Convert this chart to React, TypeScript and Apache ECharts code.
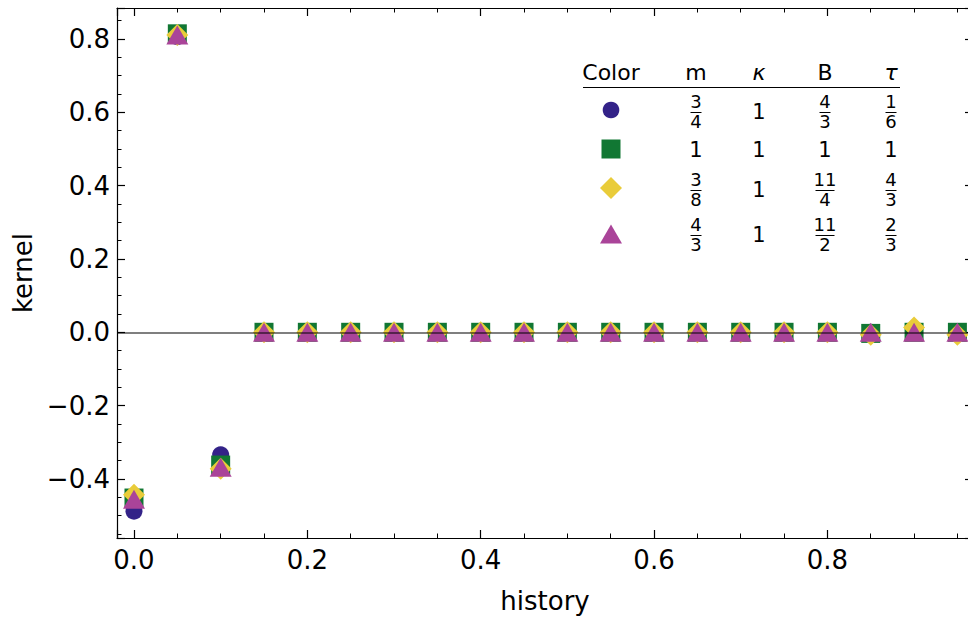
import React, { useEffect, useRef } from "react";
import * as echarts from "echarts";

// ---- data ----
const historyX = [0, 0.05, 0.1, 0.15, 0.2, 0.25, 0.3, 0.35, 0.4, 0.45, 0.5, 0.55, 0.6, 0.65, 0.7, 0.75, 0.8, 0.85, 0.9, 0.95];
const circleVals = [-0.488, 0.806, -0.334, 0, 0, 0, 0, 0, 0, 0, 0, 0, 0, 0, 0, 0, 0, 0, 0, 0];
const squareVals = [-0.452, 0.814, -0.362, 0, 0, 0, 0, 0, 0, 0, 0, 0, 0, 0, 0, 0, 0, -0.003, 0, 0];
const diamondVals = [-0.443, 0.811, -0.372, 0, 0, 0, 0, 0, 0, 0, 0, 0, 0, 0, 0, 0, 0, -0.007, 0.013, -0.007];
const triangleVals = [-0.455, 0.811, -0.368, 0, 0, 0, 0, 0, 0, 0, 0, 0, 0, 0, 0, 0, 0, 0, 0, 0];

const seriesColors = ["#332288", "#117733", "#E9CC3A", "#AA4499"];

// legend table
const tableHeaders = ["Color", "m", "κ", "B", "τ"];
const colM = ["3/4", "1", "3/8", "4/3"];
const colKappa = ["1", "1", "1", "1"];
const colB = ["4/3", "1", "11/4", "11/2"];
const colTau = ["1/6", "1", "4/3", "2/3"];

const FONT = '"DejaVu Sans"';

function buildTable(): any[] {
  const els: any[] = [];
  const colX = [611, 696, 759, 825, 891];
  const headerY = 72;
  tableHeaders.forEach((h, i) => {
    const italic = h === "κ" || h === "τ";
    els.push({
      type: "text",
      x: colX[i],
      y: headerY,
      style: {
        text: h,
        fill: "#000",
        font: `${italic ? "italic " : ""}22px ${FONT}`,
        align: "center",
        verticalAlign: "middle",
      },
    });
  });
  els.push({
    type: "line",
    shape: { x1: 583, y1: 87.5, x2: 900, y2: 87.5 },
    style: { stroke: "#000", lineWidth: 1.2 },
  });
  const rowY = [112, 150, 190, 235];
  const markY = [110, 149, 188, 234];
  const mx = colX[0];
  // markers
  els.push({ type: "circle", shape: { cx: mx, cy: markY[0], r: 8.3 }, style: { fill: seriesColors[0] } });
  els.push({ type: "rect", shape: { x: mx - 9.5, y: markY[1] - 9.5, width: 19, height: 19 }, style: { fill: seriesColors[1] } });
  els.push({
    type: "polygon",
    shape: { points: [[mx, markY[2] - 11], [mx + 11, markY[2]], [mx, markY[2] + 11], [mx - 11, markY[2]]] },
    style: { fill: seriesColors[2] },
  });
  els.push({
    type: "polygon",
    shape: { points: [[mx, markY[3] - 9.5], [mx + 11, markY[3] + 9.5], [mx - 11, markY[3] + 9.5]] },
    style: { fill: seriesColors[3] },
  });
  const cols = [colM, colKappa, colB, colTau];
  cols.forEach((col, ci) => {
    const cx = colX[ci + 1];
    col.forEach((cell, ri) => {
      const cy = rowY[ri];
      if (cell.includes("/")) {
        const [num, den] = cell.split("/");
        const w = Math.max(num.length, den.length) === 1 ? 11 : 19;
        els.push({
          type: "text",
          x: cx,
          y: cy - 10.2,
          style: { text: num, fill: "#000", font: `18px ${FONT}`, align: "center", verticalAlign: "middle" },
        });
        els.push({
          type: "line",
          shape: { x1: cx - w / 2, y1: cy + 0.5, x2: cx + w / 2, y2: cy + 0.5 },
          style: { stroke: "#000", lineWidth: 1 },
        });
        els.push({
          type: "text",
          x: cx,
          y: cy + 9.5,
          style: { text: den, fill: "#000", font: `18px ${FONT}`, align: "center", verticalAlign: "middle" },
        });
      } else {
        els.push({
          type: "text",
          x: cx,
          y: cy,
          style: { text: cell, fill: "#000", font: `21px ${FONT}`, align: "center", verticalAlign: "middle" },
        });
      }
    });
  });
  return els;
}

const fmt = (v: number) => (v < 0 ? "\u2212" : "") + Math.abs(v).toFixed(1);

export default function App() {
  const ref = useRef<HTMLDivElement>(null);
  useEffect(() => {
    if (!ref.current) return;
    const chart = echarts.init(ref.current, null, { renderer: "svg" });
    const xMin = -0.0196;
    const xMax = 0.968;
    const yMin = -0.561;
    const yMax = 0.8844;
    const tickCommon = {
      axisTick: { show: true, inside: true, length: 8, lineStyle: { color: "#000", width: 1.2 } },
      minorTick: { show: true, splitNumber: 4, length: 4.5, lineStyle: { color: "#000", width: 1 } },
      splitLine: { show: false },
      axisLine: { show: true, onZero: false, lineStyle: { color: "#000", width: 1.2 } },
    };
    const mk = (vals: number[]) => historyX.map((x, i) => [x, vals[i]]);
    chart.setOption({
      animation: false,
      backgroundColor: "#fff",
      grid: { left: 117, top: 8, width: 856, height: 530, containLabel: false },
      xAxis: [
        {
          type: "value",
          min: xMin,
          max: xMax,
          minInterval: 0.2,
          maxInterval: 0.2,
          position: "bottom",
          name: "history",
          nameLocation: "middle",
          nameGap: 50,
          nameTextStyle: { fontFamily: FONT, fontSize: 26, color: "#000" },
          axisLabel: {
            fontFamily: FONT,
            fontSize: 26,
            color: "#000",
            margin: 9,
            showMinLabel: false,
            showMaxLabel: false,
            formatter: fmt,
          },
          ...tickCommon,
        },
        {
          type: "value",
          min: xMin,
          max: xMax,
          minInterval: 0.2,
          maxInterval: 0.2,
          position: "top",
          axisLabel: { show: false },
          ...tickCommon,
        },
      ],
      yAxis: [
        {
          type: "value",
          min: yMin,
          max: yMax,
          minInterval: 0.2,
          maxInterval: 0.2,
          position: "left",
          name: "kernel",
          nameLocation: "middle",
          nameGap: 76,
          nameTextStyle: { fontFamily: FONT, fontSize: 26, color: "#000" },
          axisLabel: {
            fontFamily: FONT,
            fontSize: 26,
            color: "#000",
            margin: 7,
            showMinLabel: false,
            showMaxLabel: false,
            formatter: fmt,
          },
          ...tickCommon,
        },
        {
          type: "value",
          min: yMin,
          max: yMax,
          minInterval: 0.2,
          maxInterval: 0.2,
          position: "right",
          axisLabel: { show: false },
          ...tickCommon,
        },
      ],
      series: [
        {
          type: "scatter",
          data: mk(circleVals),
          symbol: "circle",
          symbolSize: 17,
          itemStyle: { color: seriesColors[0], opacity: 1 },
          z: 2,
        },
        {
          type: "scatter",
          data: mk(squareVals),
          symbol: "rect",
          symbolSize: 19,
          itemStyle: { color: seriesColors[1], opacity: 1 },
          z: 3,
        },
        {
          type: "scatter",
          data: mk(diamondVals),
          symbol: "diamond",
          symbolSize: 22,
          itemStyle: { color: seriesColors[2], opacity: 1 },
          z: 4,
        },
        {
          type: "scatter",
          data: mk(triangleVals),
          symbol: "triangle",
          symbolSize: [22, 19],
          itemStyle: { color: seriesColors[3], opacity: 1 },
          z: 5,
          markLine: {
            silent: true,
            symbol: ["none", "none"],
            z: 10,
            label: { show: false },
            lineStyle: { color: "rgba(0,0,0,0.5)", width: 2, type: "solid" },
            data: [{ yAxis: 0 }],
          },
        },
      ],
      graphic: buildTable(),
    });
    return () => chart.dispose();
  }, []);
  return (
    <div style={{ position: "fixed", left: 0, top: 0, width: 968, height: 621, overflow: "hidden", background: "#fff" }}>
      <div ref={ref} style={{ width: 976, height: 621 }} />
    </div>
  );
}
